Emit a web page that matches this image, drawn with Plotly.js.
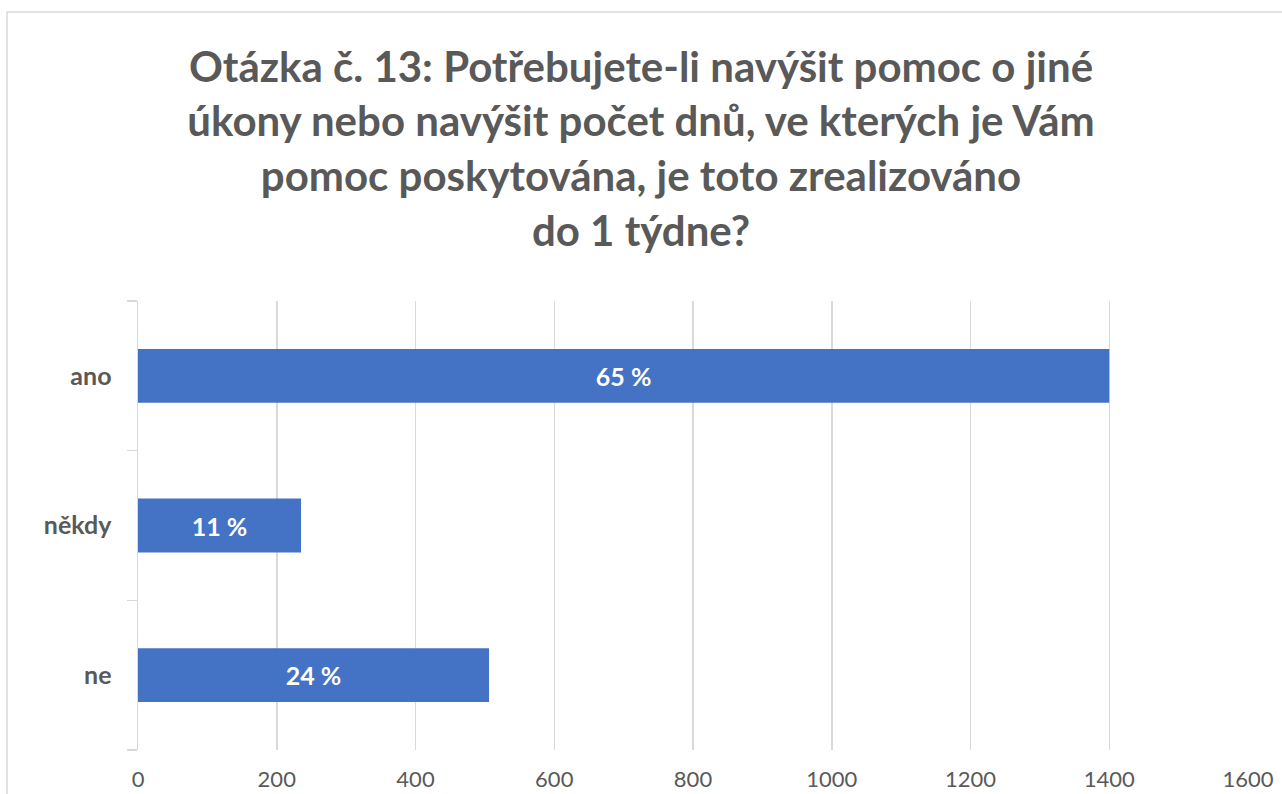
<!DOCTYPE html>
<html>
<head>
<meta charset="utf-8">
<script src="https://cdn.plot.ly/plotly-3.0.1.min.js"></script>
<style>html,body{margin:0;padding:0;background:#fff;}#chart{width:1282px;height:794px;}</style>
</head>
<body>
<div id="chart"></div>
<script>
const categories = ["ano", "někdy", "ne"];
const counts = [1400, 235, 506];
const percentLabels = ["65 %", "11 %", "24 %"];
const xTicks = [0, 200, 400, 600, 800, 1000, 1200, 1400, 1600];

const titleText = "Otázka č. 13: Potřebujete-li navýšit pomoc o jiné<br>úkony nebo navýšit počet dnů, ve kterých je Vám<br>pomoc poskytována, je toto zrealizováno<br>do 1 týdne?";

const trace = {
  type: "bar",
  orientation: "h",
  y: categories,
  x: counts,
  text: percentLabels,
  textposition: "inside",
  insidetextanchor: "middle",
  textfont: {family: "Lato, 'Open Sans', sans-serif", size: 25, color: "#ffffff", weight: "bold"},
  marker: {color: "#4472C4"},
  hoverinfo: "none",
  cliponaxis: false
};

const layout = {
  width: 1282,
  height: 794,
  margin: {l: 138, r: 34, t: 301, b: 44},
  paper_bgcolor: "#ffffff",
  plot_bgcolor: "#ffffff",
  showlegend: false,
  bargap: 0.64,
  font: {family: "Lato, 'Open Sans', sans-serif", color: "#595959"},
  title: {
    text: titleText,
    x: 0.5, xanchor: "center",
    xref: "container", yref: "container",
    y: 0.897, yanchor: "top",
    font: {family: "Lato, 'Open Sans', sans-serif", size: 42, color: "#595959", weight: "bold"}
  },
  xaxis: {
    range: [0, 1600],
    tickvals: xTicks,
    ticktext: xTicks.map(String),
    showgrid: true,
    gridcolor: "#d9d9d9",
    gridwidth: 1.5,
    zeroline: false,
    showline: false,
    ticks: "",
    ticklabelstandoff: 14,
    tickfont: {size: 22, color: "#595959"},
    fixedrange: true
  },
  yaxis: {
    type: "category",
    categoryorder: "array",
    categoryarray: ["ne", "někdy", "ano"],
    showline: true,
    linecolor: "#d9d9d9",
    linewidth: 1.5,
    ticks: "outside",
    tickson: "boundaries",
    ticklen: 10,
    tickcolor: "#d9d9d9",
    tickwidth: 1.5,
    showgrid: false,
    ticklabelstandoff: 20,
    tickfont: {size: 25, color: "#595959", weight: "bold"},
    fixedrange: true
  },
  shapes: [{
    type: "rect",
    xref: "paper", yref: "paper",
    x0: -0.118, x1: 1.1,
    y0: -0.3, y1: 1.6437,
    line: {color: "#d9d9d9", width: 1.5},
    fillcolor: "rgba(0,0,0,0)",
    layer: "below"
  }]
};

Plotly.newPlot("chart", [trace], layout, {displayModeBar: false, staticPlot: true});
</script>
</body>
</html>
